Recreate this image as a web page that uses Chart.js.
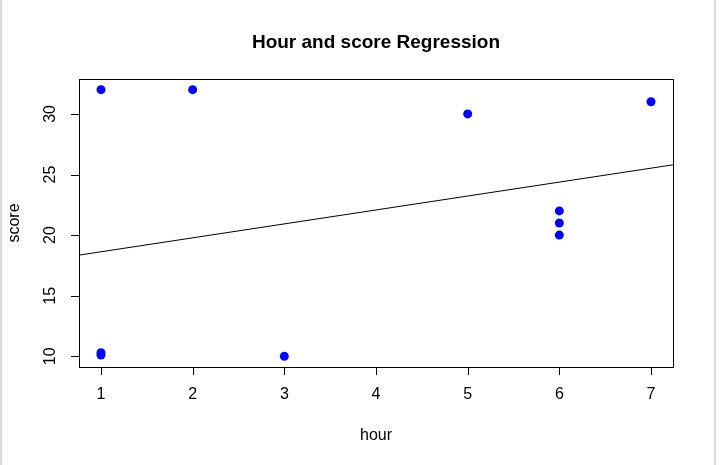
<!DOCTYPE html>
<html>
<head>
<meta charset="utf-8">
<script src="https://cdn.jsdelivr.net/npm/chart.js@4.4.1/dist/chart.umd.min.js"></script>
<style>
  html, body { margin: 0; padding: 0; background: #fff; }
  #wrap { position: relative; width: 719px; height: 465px; }
  #wrap:before { content: ''; position: absolute; left: 0; top: 0; width: 2px; height: 465px; background: #d9dde3; }
  #wrap:after { content: ''; position: absolute; left: 714px; top: 0; width: 2px; height: 465px; background: #d9dde3; }
</style>
</head>
<body>
<div id="wrap"><canvas id="c" width="719" height="465"></canvas></div>
<script>
// data
const hours  = [1, 1, 1, 2, 3, 5, 6, 6, 6, 7];
const scores = [32, 10.3, 10.1, 32, 10, 30, 22, 21, 20, 31];
// fitted line, read at the left and right edges of the plot
const fitX = [0.76, 7.24];
const fitY = [18.35, 25.8];
const xTicks = [1, 2, 3, 4, 5, 6, 7];
const yTicks = [10, 15, 20, 25, 30];
const title = 'Hour and score Regression';
const xLabel = 'hour', yLabel = 'score';

const font = '"Liberation Sans", Arial, sans-serif';

// R style box, ticks and labels
const rAxes = {
  id: 'rAxes',
  afterDraw(chart) {
    const { ctx, chartArea: a, scales: { x, y } } = chart;
    ctx.save();
    ctx.strokeStyle = '#000'; ctx.lineWidth = 1;
    ctx.strokeRect(a.left + 0.5, a.top + 0.5, a.right - a.left, a.bottom - a.top);
    ctx.fillStyle = '#000';
    ctx.font = '16px ' + font;
    ctx.textAlign = 'center'; ctx.textBaseline = 'middle';
    ctx.beginPath();
    xTicks.forEach(v => {
      const px = Math.round(x.getPixelForValue(v)) + 0.5;
      ctx.moveTo(px, a.bottom); ctx.lineTo(px, a.bottom + 8);
    });
    yTicks.forEach(v => {
      const py = Math.round(y.getPixelForValue(v)) + 0.5;
      ctx.moveTo(a.left, py); ctx.lineTo(a.left - 8, py);
    });
    ctx.stroke();
    xTicks.forEach(v => ctx.fillText(String(v), x.getPixelForValue(v), a.bottom + 28));
    yTicks.forEach(v => {
      ctx.save();
      ctx.translate(a.left - 28, y.getPixelForValue(v));
      ctx.rotate(-Math.PI / 2);
      ctx.fillText(String(v), 0, 0);
      ctx.restore();
    });
    const cx = (a.left + a.right) / 2;
    ctx.fillText(xLabel, cx, a.bottom + 69);
    ctx.save();
    ctx.translate(15, (a.top + a.bottom) / 2);
    ctx.rotate(-Math.PI / 2);
    ctx.fillText(yLabel, 0, 0);
    ctx.restore();
    ctx.font = 'bold 19px ' + font;
    ctx.fillText(title, cx, 43);
    ctx.restore();
  }
};

new Chart(document.getElementById('c'), {
  type: 'scatter',
  data: {
    datasets: [
      {
        data: hours.map((h, i) => ({ x: h, y: scores[i] })),
        backgroundColor: '#0000ff', borderColor: '#0000ff',
        pointRadius: 4.5, pointHoverRadius: 4.5, borderWidth: 0
      },
      {
        type: 'line',
        data: fitX.map((v, i) => ({ x: v, y: fitY[i] })),
        borderColor: '#000', borderWidth: 1, pointRadius: 0, fill: false
      }
    ]
  },
  options: {
    responsive: false, animation: false, devicePixelRatio: 1,
    layout: { padding: { left: 79, right: 46, top: 79, bottom: 98 } },
    plugins: { legend: { display: false }, tooltip: { enabled: false } },
    scales: {
      x: { type: 'linear', min: 0.76, max: 7.24, display: false },
      y: { type: 'linear', min: 9.12, max: 32.88, display: false }
    }
  },
  plugins: [rAxes]
});
</script>
</body>
</html>
